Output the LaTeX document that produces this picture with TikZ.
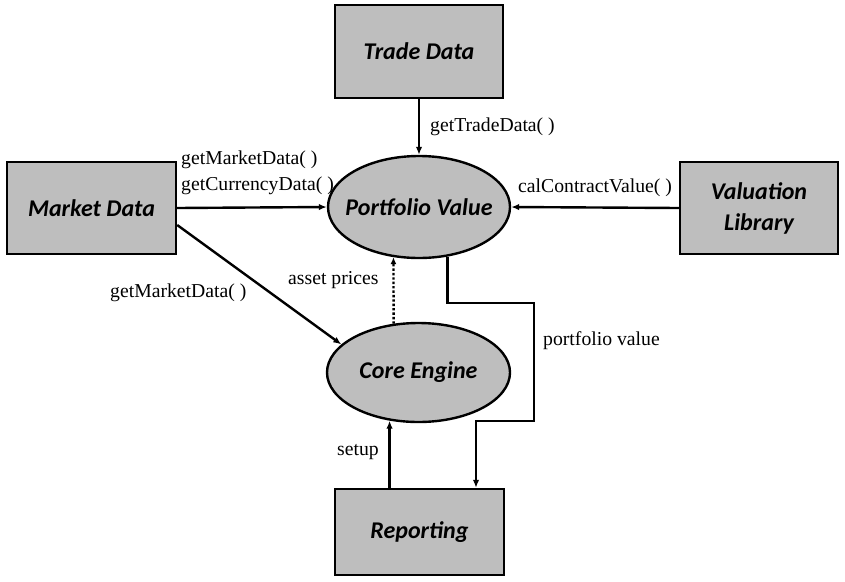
\documentclass[tikz,border=0pt]{standalone}
\usepackage{fontspec}
\setmainfont{Liberation Serif}
\newfontfamily\boxfont{Carlito}
\usetikzlibrary{shapes.geometric,arrows.meta,calc}
\definecolor{boxgray}{RGB}{190,190,190}
\begin{document}
\begin{tikzpicture}[x=1pt,y=-1pt,
  boxtext/.style={font=\boxfont\bfseries\itshape\fontsize{24}{31}\selectfont},
  block/.style={draw=black,line width=2.4pt,fill=boxgray,inner sep=0pt,
    align=center,boxtext},
  oval/.style={ellipse,draw=black,line width=2.4pt,fill=boxgray,inner sep=0pt,
    label={[boxtext]center:#1}},
  arr/.style={line width=2.4pt,-{Latex[length=8pt,width=6.5pt]}},
  lbl/.style={anchor=west,inner sep=0pt,font=\fontsize{19.7}{23}\selectfont}]
\useasboundingbox[fill=white] (0,0) rectangle (845,581);

% data sources and sinks
\node[block,minimum width=168pt,minimum height=93pt] (td) at (419,51.5) {Trade Data};
\node[block,minimum width=169pt,minimum height=92pt] (md) at (91.5,208) {Market Data};
\node[block,minimum width=158pt,minimum height=92pt] (vl) at (759,208) {Valuation\\Library};
\node[block,minimum width=169pt,minimum height=86pt] (rp) at (419.5,532) {Reporting};

% processes (text set as a centred label so the ellipse keeps its size)
\node[oval={Portfolio Value},minimum width=182pt,minimum height=102pt] (pv) at (419,207) {};
\node[oval={Core Engine},minimum width=183pt,minimum height=99pt] (ce) at (418.5,372.5) {};

% connectors
\draw[arr] (td.south) -- (pv.north);
\draw[arr] (md.east) -- (pv.west);
\draw[arr] (vl.west) -- (pv.east);
\draw[arr] ($(md.east)+(0,17)$) -- (ce.160);
\draw[line width=2.4pt,dotted,-{Latex[length=7pt,width=6pt]}] (ce.117) -- (pv.-117);
\draw[arr] (ce.-121 |- rp.north) -- (ce.-121);
\draw[arr] (pv.-60) |- (534,303) |- (476,421) -- ($(rp.north)+(56.5,0)$);

% connector labels
\node[lbl] (l1) at (430,127) {getTradeData( )};
\node[lbl] (l2) at (181,160) {getMarketData( )};
\node[lbl] (l3) at (181,186) {getCurrencyData( )};
\node[lbl] (l4) at (110,293) {getMarketData( )};
\node[lbl] (l5) at (288,280) {asset prices};
\node[lbl] (l6) at (518,188) {calContractValue( )};
\node[lbl] (l7) at (543,341) {portfolio value};
\node[lbl] (l8) at (337,452) {setup};
\end{tikzpicture}
\end{document}
